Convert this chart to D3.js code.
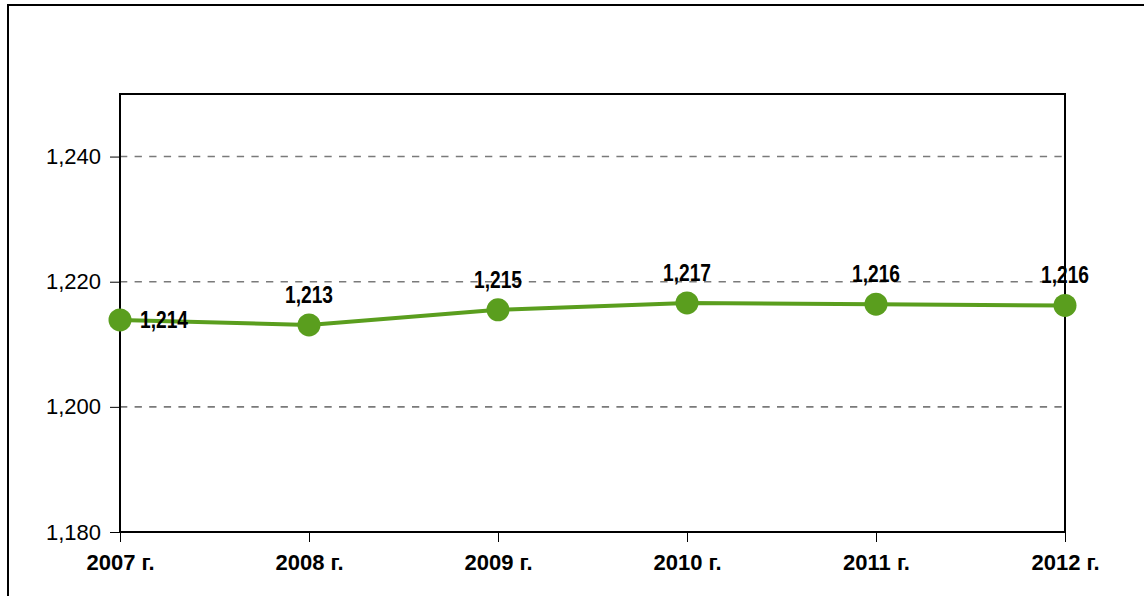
<!DOCTYPE html>
<html><head><meta charset="utf-8">
<script src="https://cdn.jsdelivr.net/npm/d3@7"></script>
<style>body{margin:0;background:#fff}svg{display:block}</style>
</head><body>
<svg id="c" width="1144" height="596"></svg>
<script>
const categories = ["2007 г.","2008 г.","2009 г.","2010 г.","2011 г.","2012 г."];
const values = [1213.9, 1213.1, 1215.5, 1216.6, 1216.4, 1216.2];
const labels = ["1,214","1,213","1,215","1,217","1,216","1,216"];
const yTicks = [1180, 1200, 1220, 1240];

const FONT = "Liberation Sans, Arial, sans-serif";
const svg = d3.select("#c");
const m = {l:120, t:94, r:1065, b:532};
// outer frame (left & top visible)
svg.append("rect").attr("x",8).attr("y",5).attr("width",1150).attr("height",600)
  .attr("fill","none").attr("stroke","#000").attr("stroke-width",2);

const x = d3.scalePoint().domain(categories).range([m.l, m.r]);
const y = d3.scaleLinear().domain([1180,1250]).range([m.b, m.t]);

// gridlines
svg.append("g").selectAll("line").data(yTicks.filter(d=>d>1180)).join("line")
  .attr("x1",m.l).attr("x2",m.r).attr("y1",d=>y(d)).attr("y2",d=>y(d))
  .attr("stroke","#7a7a7a").attr("stroke-width",1.6).attr("stroke-dasharray","7.3,7.3");

// plot frame
svg.append("rect").attr("x",m.l).attr("y",m.t).attr("width",m.r-m.l).attr("height",m.b-m.t)
  .attr("fill","none").attr("stroke","#000").attr("stroke-width",2);

// y axis
const ya = svg.append("g").attr("transform",`translate(${m.l},0)`)
  .call(d3.axisLeft(y).tickValues(yTicks).tickSize(10).tickPadding(9).tickFormat(d3.format(",")));
ya.select(".domain").remove();
ya.selectAll("line").attr("stroke","#000");
ya.selectAll("text").attr("font-family",FONT).attr("font-size",22).attr("fill","#000");

// x axis
const xa = svg.append("g").attr("transform",`translate(0,${m.b})`)
  .call(d3.axisBottom(x).tickSize(10).tickPadding(14));
xa.select(".domain").remove();
xa.selectAll("line").attr("stroke","#000");
xa.selectAll("text").attr("font-family",FONT).attr("font-size",22)
  .attr("font-weight","bold").attr("fill","#000").attr("dy","0.65em");

// line
const data = categories.map((c,i)=>({c, v:values[i], l:labels[i]}));
svg.append("path").datum(data)
  .attr("d", d3.line().x(d=>x(d.c)).y(d=>y(d.v)))
  .attr("fill","none").attr("stroke","#5a9e1e").attr("stroke-width",4);
svg.append("g").selectAll("circle").data(data).join("circle")
  .attr("cx",d=>x(d.c)).attr("cy",d=>y(d.v)).attr("r",11.5).attr("fill","#5a9e1e");

// labels
svg.append("g").selectAll("text").data(data).join("text")
  .attr("x",(d,i)=> i===0 ? x(d.c)+44 : x(d.c))
  .attr("y",(d,i)=> i===0 ? y(d.v)+8 : y(d.v)-22)
  .attr("text-anchor","middle")
  .attr("font-family",FONT).attr("font-size",23)
  .attr("font-weight","bold").attr("fill","#000")
  .attr("textLength",48).attr("lengthAdjust","spacingAndGlyphs")
  .text(d=>d.l);
</script>
</body></html>
